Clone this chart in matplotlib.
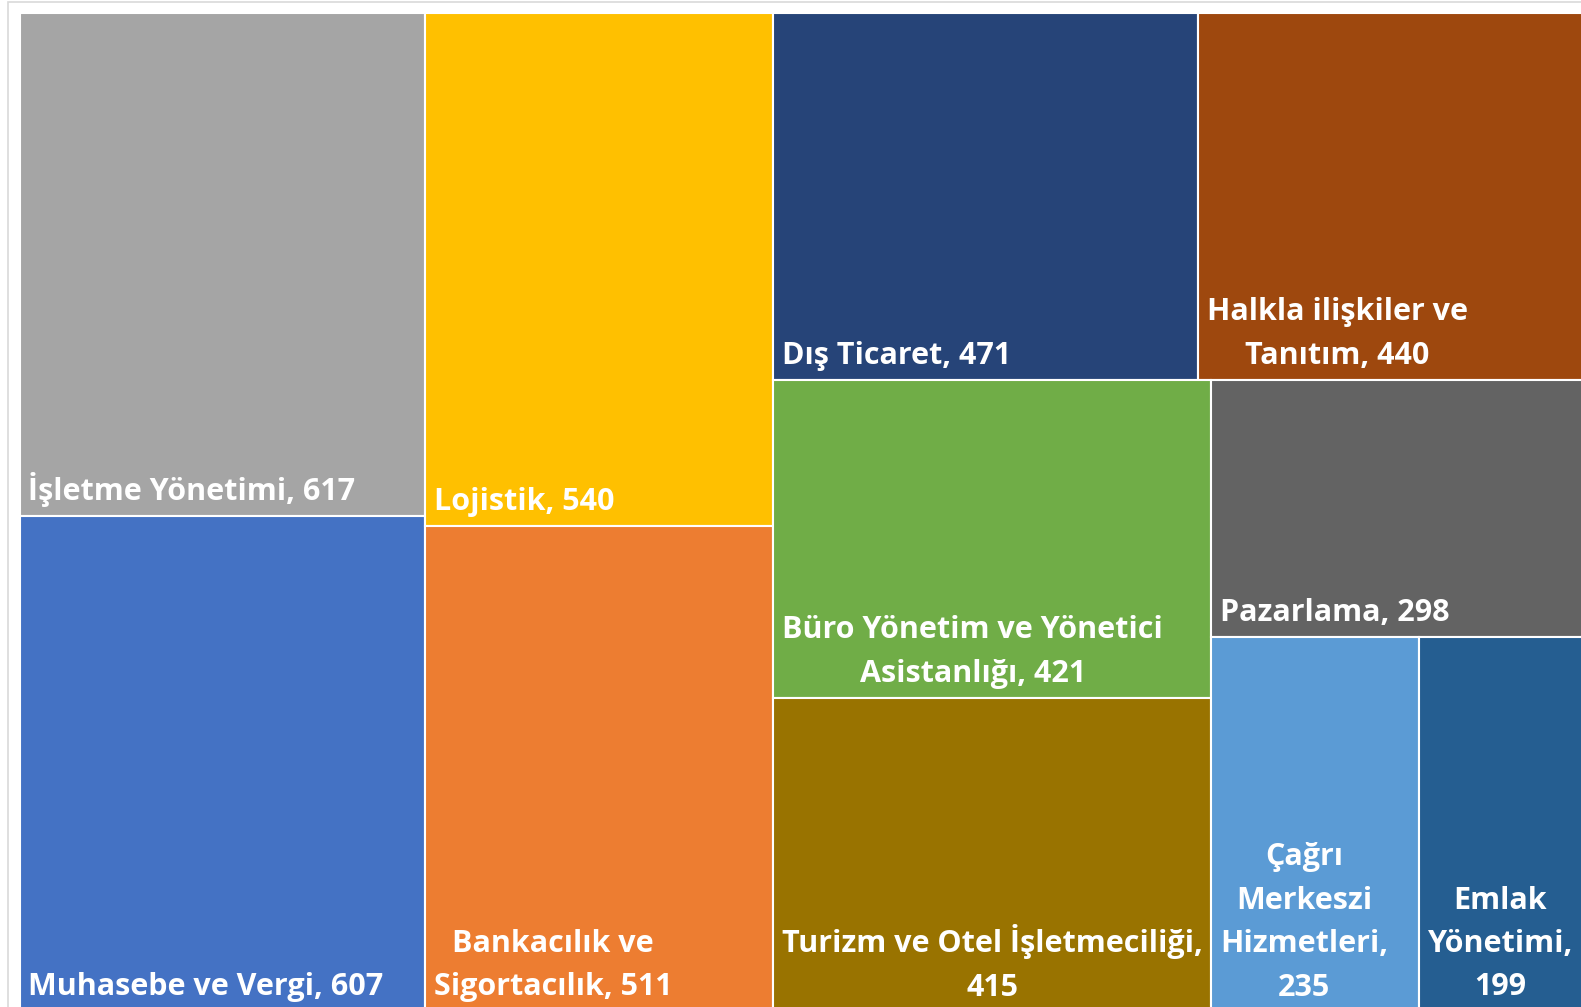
import matplotlib
matplotlib.use("Agg")
import matplotlib.pyplot as plt
from matplotlib.patches import Rectangle

# ---- data ----
categories = ["İşletme Yönetimi", "Muhasebe ve Vergi", "Lojistik", "Bankacılık ve\nSigortacılık",
              "Dış Ticaret", "Halkla ilişkiler ve\nTanıtım", "Büro Yönetim ve Yönetici\nAsistanlığı",
              "Turizm ve Otel İşletmeciliği", "Pazarlama", "Çağrı\nMerkeszi\nHizmetleri",
              "Emlak\nYönetimi"]
values = [617, 607, 540, 511, 471, 440, 421, 415, 298, 235, 199]
value_on_new_line = [False, False, False, False, False, False, False, True, False, True, True]
colors = ["#A5A5A5", "#4472C4", "#FFC000", "#ED7D31", "#264478", "#9E480E",
          "#70AD47", "#997300", "#636363", "#5B9BD5", "#255E91"]

FW, FH = 1581, 1007
fig = plt.figure(figsize=(FW / 100, FH / 100), dpi=100)
fig.patch.set_facecolor("white")

# outer chart border (partly outside the image)
fig.patches.append(Rectangle((8 / FW, -0.2), 2, 1 - 1.5 / FH + 0.2, transform=fig.transFigure,
                             facecolor="none", edgecolor="#d9d9d9", linewidth=1.2))

# plot area in pixels
PL, PT, PW, PH = 19.5, 12.5, 1575.0, 999.0
ax = fig.add_axes([PL / FW, 1 - (PT + PH) / FH, PW / FW, PH / FH])
ax.set_xlim(0, PW)
ax.set_ylim(PH, 0)
ax.axis("off")


def worst(row, length):
    s = sum(row)
    return max(max(length ** 2 * r / s ** 2, s ** 2 / (length ** 2 * r)) for r in row)


def squarify(vals, x, y, w, h):
    total = sum(vals)
    areas = [v / total * w * h for v in vals]
    rects = []
    while areas:
        short = min(w, h)
        row = [areas[0]]
        i = 1
        while i < len(areas) and worst(row + [areas[i]], short) <= worst(row, short):
            row.append(areas[i])
            i += 1
        s = sum(row)
        if w >= h:
            cw = s / h
            yy = y
            for r in row:
                rh = r / cw
                rects.append((x, yy, cw, rh))
                yy += rh
            x += cw
            w -= cw
        else:
            rh = s / w
            xx = x
            for r in row:
                rw = r / rh
                rects.append((xx, y, rw, rh))
                xx += rw
            y += rh
            h -= rh
        areas = areas[i:]
    return rects


rects = squarify(values, 0, 0, PW, PH)

for (x, y, w, h), cat, v, nl, c in zip(rects, categories, values, value_on_new_line, colors):
    ax.add_patch(Rectangle((x, y), w, h, facecolor=c, edgecolor="white", linewidth=1.5))
    label = f"{cat},\n{v}" if nl else f"{cat}, {v}"
    ax.text(x + 9, y + h - 16, label, ha="left", va="baseline", multialignment="center",
            color="white", fontsize=22, fontweight="bold", family=["Open Sans", "DejaVu Sans"],
            linespacing=1.58)

fig.savefig("out.png", dpi=100, facecolor="white")
